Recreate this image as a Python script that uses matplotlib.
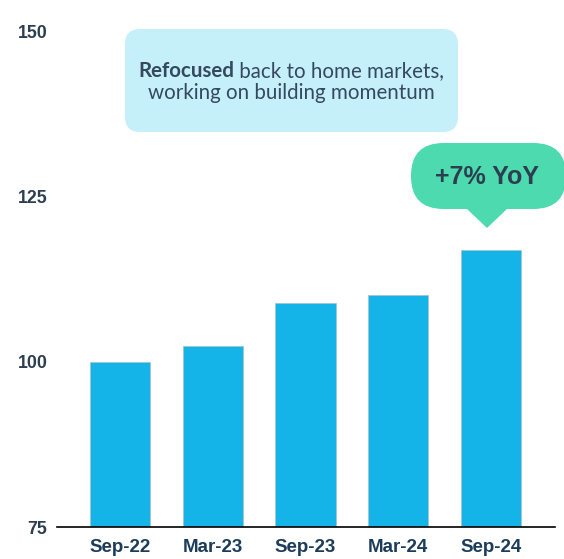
import numpy as np
import matplotlib.pyplot as plt
from matplotlib.patches import FancyBboxPatch, Polygon

# data
periods = ['Sep-22', 'Mar-23', 'Sep-23', 'Mar-24', 'Sep-24']
values = [100.0, 102.4, 108.9, 110.1, 116.9]
yticks = [75, 100, 125, 150]

W, H = 564, 559
fig = plt.figure(figsize=(W / 100, H / 100), dpi=100)

def fx(px):
    return px / W

def fy(py):
    return 1 - py / H

ax = fig.add_axes([fx(57), fy(527), fx(555) - fx(57), fy(32) - fy(527)])
x = np.arange(len(periods))
ax.bar(x, [v - 75 for v in values], bottom=75, width=0.65, color='#14b4e8',
       edgecolor='#a9c3cc', linewidth=0.6, zorder=2)
ax.set_xlim(-0.68, 4.69)
ax.set_ylim(75, 150)
ax.set_yticks(yticks)
ax.set_yticklabels([str(t) for t in yticks], fontsize=12.8, fontweight='bold',
                   color='#2d3e50', family='Liberation Sans')
ax.set_xticks(x)
ax.set_xticklabels(periods, fontsize=13.5, fontweight='bold', color='#1c3d5a',
                   family='Liberation Sans')
ax.tick_params(axis='y', length=0, pad=7)
ax.tick_params(axis='x', length=0, pad=9)
for s in ['top', 'right', 'left']:
    ax.spines[s].set_visible(False)
ax.spines['bottom'].set_color('black')
ax.spines['bottom'].set_linewidth(1.2)

# light cyan comment box
box = FancyBboxPatch((fx(125), fy(132)), fx(458) - fx(125), fy(29) - fy(132),
                     boxstyle='round,pad=0,rounding_size=0.027',
                     transform=fig.transFigure, facecolor='#c6f0f9',
                     edgecolor='none', zorder=5)
fig.patches.append(box)

fs = 14.8
r = fig.canvas.get_renderer()
tb = fig.text(0, fy(71), 'Refocused', fontsize=fs, fontweight='bold',
              color='#34495e', family='Lato', ha='left', va='center', zorder=6)
tr = fig.text(0, fy(71), ' back to home markets,', fontsize=fs,
              color='#34495e', family='Lato', ha='left', va='center', zorder=6)
wb = tb.get_window_extent(r).width
wr = tr.get_window_extent(r).width
x0 = 291 - (wb + wr) / 2
tb.set_x(fx(x0))
tr.set_x(fx(x0 + wb))
fig.text(fx(291), fy(93), 'working on building momentum', fontsize=fs,
         color='#34495e', family='Lato', ha='center', va='center', zorder=6)

# green YoY bubble
bub = FancyBboxPatch((fx(411), fy(209)), fx(566) - fx(411), fy(143) - fy(209),
                     boxstyle='round,pad=0,rounding_size=0.058',
                     transform=fig.transFigure, facecolor='#4cdaae',
                     edgecolor='none', zorder=5)
fig.patches.append(bub)
tri = Polygon([(fx(466), fy(208)), (fx(508), fy(208)), (fx(487), fy(228))],
              closed=True, transform=fig.transFigure, facecolor='#4cdaae',
              edgecolor='none', zorder=5)
fig.patches.append(tri)
fig.text(fx(487), fy(177), '+7% YoY', fontsize=18, fontweight='bold',
         color='#2c3e50', family='Liberation Sans', ha='center', va='center',
         zorder=6)

fig.savefig('out.png', dpi=100)
